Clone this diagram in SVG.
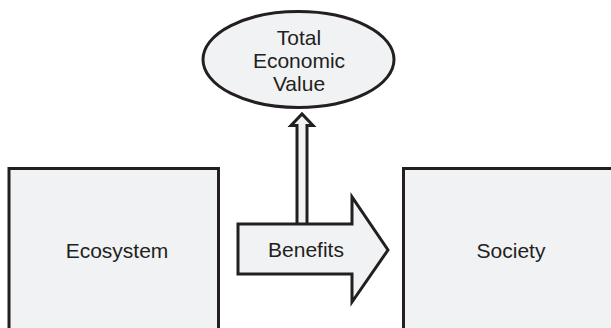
<svg xmlns="http://www.w3.org/2000/svg" width="611" height="328" viewBox="0 0 611 328">
<style>
.shape{fill:#f1f2f4;stroke:#231f20;stroke-width:3;stroke-linejoin:miter}
.lbl{font-family:"Liberation Sans",Arial,sans-serif;font-size:21px;fill:#231f20;text-anchor:middle}
</style>
<rect width="611" height="328" fill="#ffffff"/>
<g id="ecosystem">
<rect class="shape" x="9" y="168.5" width="209.5" height="180"/>
<text class="lbl" x="117" y="258">Ecosystem</text>
</g>
<g id="society">
<rect class="shape" x="403.5" y="168.5" width="220" height="180"/>
<text class="lbl" x="511" y="258">Society</text>
</g>
<g id="tev">
<ellipse class="shape" cx="298.5" cy="59.5" rx="95.5" ry="48" stroke-width="2.5"/>
<text class="lbl" x="299" y="45">Total</text>
<text class="lbl" x="299" y="68">Economic</text>
<text class="lbl" x="299" y="91">Value</text>
</g>
<g id="connectors">
<polygon class="shape" stroke-width="2.5" points="297,226 297,125.5 291,125.5 302,114 313,125.5 307,125.5 307,226"/>
<g id="benefits">
<polygon class="shape" points="238,224 352,224 352,197 388,250 352,302 352,274 238,274"/>
<text class="lbl" x="306" y="257">Benefits</text>
</g>
</g>
</svg>
